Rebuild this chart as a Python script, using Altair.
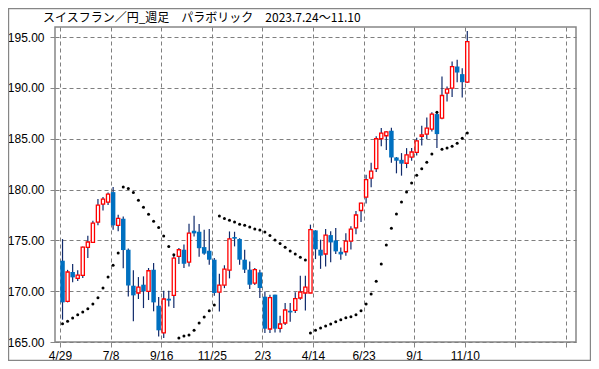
import altair as alt
import pandas as pd

# Weekly CHF/JPY candles (4/29/2022 .. 11/10/2023)
opens = [173.0, 169.0, 171.89, 171.26, 171.56, 174.31, 174.80, 176.80, 178.57, 178.77,
         179.75, 176.48, 177.13, 174.08, 170.54, 169.82, 170.64, 169.98, 172.11, 168.57,
         165.89, 169.26, 169.59, 173.43, 174.08, 172.87, 175.95, 175.85, 174.34, 173.98,
         173.10, 169.90, 170.60, 172.08, 175.33, 175.14, 173.10, 172.12, 170.80, 171.85,
         169.46, 166.28, 169.66, 166.34, 166.87, 168.08, 168.11, 169.33, 169.82, 169.82,
         175.98, 174.08, 173.66, 175.52, 175.00, 173.88, 173.88, 174.93, 176.24, 177.94,
         179.25, 181.12, 182.06, 185.00, 185.30, 185.79, 183.16, 182.93, 182.59, 183.20,
         183.66, 185.23, 185.46, 185.95, 187.43, 187.03, 189.49, 189.98, 192.11, 191.36,
         190.57]
highs = [175.13, 172.10, 172.67, 172.05, 174.40, 175.46, 176.93, 179.07, 179.26, 179.72,
         180.25, 177.52, 177.36, 174.20, 172.05, 171.39, 171.46, 172.28, 172.77, 169.43,
         170.05, 170.05, 173.66, 174.25, 174.60, 176.64, 177.43, 176.62, 176.05, 176.11,
         173.26, 171.72, 172.55, 175.88, 175.85, 175.20, 174.08, 172.93, 172.28, 172.12,
         169.98, 169.66, 169.66, 167.59, 168.84, 168.84, 169.89, 171.53, 171.53, 176.55,
         176.00, 175.07, 176.11, 175.90, 176.21, 174.30, 175.70, 176.40, 177.90, 178.70,
         181.45, 182.63, 185.25, 186.05, 185.75, 186.08, 183.20, 183.59, 184.08, 184.08,
         185.10, 186.28, 187.10, 187.62, 187.62, 191.13, 190.15, 192.61, 192.77, 191.95,
         195.60]
lows = [167.20, 168.90, 170.87, 171.00, 171.30, 173.26, 174.74, 176.48, 177.95, 178.48,
        176.05, 175.89, 172.25, 169.49, 167.03, 169.23, 168.34, 169.13, 168.02, 165.55,
        165.39, 168.50, 168.34, 172.67, 172.28, 172.44, 175.39, 173.40, 173.59, 172.61,
        169.56, 168.00, 170.30, 171.26, 174.41, 172.60, 171.79, 170.22, 170.60, 169.33,
        165.89, 165.89, 165.94, 165.94, 166.67, 167.00, 167.85, 169.16, 168.11, 169.80,
        173.16, 172.20, 172.44, 172.84, 173.66, 173.10, 173.50, 174.10, 175.60, 176.80,
        178.62, 180.22, 181.72, 184.27, 183.90, 182.63, 181.60, 181.37, 182.11, 182.84,
        183.36, 184.34, 184.97, 185.72, 184.08, 186.93, 188.67, 189.10, 190.57, 189.07,
        190.48]
closes = [168.90, 171.89, 171.36, 171.59, 174.34, 174.84, 176.70, 178.48, 179.07, 179.56,
          176.48, 177.16, 174.05, 170.56, 169.59, 170.41, 169.98, 172.01, 168.90, 166.15,
          169.23, 169.08, 173.26, 174.08, 172.70, 175.72, 175.69, 174.23, 173.70, 173.10,
          169.82, 170.60, 172.18, 175.14, 175.17, 173.10, 172.12, 170.64, 172.12, 170.31,
          166.31, 169.36, 166.31, 166.77, 168.15, 167.91, 169.26, 169.92, 170.41, 176.05,
          174.12, 173.50, 175.52, 174.80, 173.92, 173.62, 174.93, 176.11, 177.50, 178.66,
          180.97, 181.82, 185.00, 185.56, 185.68, 183.16, 182.84, 182.55, 183.41, 183.70,
          184.80, 185.39, 186.05, 187.43, 185.46, 189.26, 189.89, 192.11, 191.52, 190.57,
          194.57]
sar = [166.80, 167.05, 167.36, 167.68, 167.96, 168.27, 168.75, 169.36, 170.31, 171.39,
       172.56, 173.77, 180.25, 180.11, 179.72, 178.95, 178.27, 177.57, 176.88, 176.28,
       175.43, 174.41, 173.58, 165.39, 165.58, 165.70, 166.15, 166.87, 167.46, 168.08,
       168.64, 177.39, 177.15, 176.97, 176.80, 176.60, 176.50, 176.31, 176.11, 176.01,
       175.82, 175.47, 175.05, 174.69, 174.33, 173.95, 173.66, 173.35, 173.07, 165.89,
       166.15, 166.38, 166.57, 166.78, 166.99, 167.20, 167.38, 167.48, 167.68, 168.07,
       168.74, 169.73, 170.98, 172.68, 174.55, 176.19, 177.59, 178.77, 179.75, 180.64,
       181.41, 182.05, 182.70, 183.49, 187.62, 183.98, 184.08, 184.27, 184.57, 185.05,
       185.56]
tick_labels = ["4/29", "7/8", "9/16", "11/25", "2/3", "4/14", "6/23", "9/1", "11/10", "", ""]
y_ticks = [165, 170, 175, 180, 185, 190, 195]
title_text = "スイスフラン／円_週足　パラボリック　2023.7.24～11.10"

n = len(opens)
df = pd.DataFrame({
    "pos": [i + 0.5 for i in range(n)],
    "open": opens, "high": highs, "low": lows, "close": closes, "sar": sar,
})
df["kind"] = ["up" if c >= o else "down" for o, c in zip(opens, closes)]

W, H = 521, 315
PAD = {"left": 47, "top": 19, "right": 15, "bottom": 19}
GRAY = "#868686"

xscale = alt.Scale(domain=[0, 101], nice=False, zero=False)
yscale = alt.Scale(domain=[165, 196], nice=False, zero=False)
label_arr = "[" + ",".join("'" + t + "'" for t in tick_labels) + "]"
xaxis = alt.Axis(values=list(range(0, 101, 10)),
                 labelExpr=label_arr + "[round(datum.value/10)]",
                 grid=True, gridDash=[4, 3], gridColor="#7f7f7f", gridWidth=1,
                 domain=False, ticks=True, tickSize=5, tickColor=GRAY,
                 labelFontSize=12, labelFont="Liberation Sans", labelColor="black",
                 labelPadding=3, labelFlush=False, title=None)
yaxis = alt.Axis(values=y_ticks, format=".2f",
                 grid=True, gridDash=[4, 3], gridColor="#7f7f7f", gridWidth=1,
                 domain=False, ticks=True, tickSize=5, tickColor=GRAY,
                 labelFontSize=12, labelFont="Liberation Sans", labelColor="black",
                 labelPadding=6, title=None)

X = alt.X("pos:Q", scale=xscale, axis=xaxis)

base = alt.Chart(df)

wicks = base.mark_rule(color="#102a6b", strokeWidth=1.2).encode(
    x=X, y=alt.Y("low:Q", scale=yscale, axis=yaxis), y2="high:Q")

down_body = base.transform_filter(alt.datum.kind == "down").mark_bar(
    size=4.5, color="#0070c0").encode(
    x=X, y=alt.Y("open:Q", scale=yscale, axis=yaxis), y2="close:Q")

up_body = base.transform_filter(alt.datum.kind == "up").mark_bar(
    size=3.2, fill="white", stroke="#ff0000", strokeWidth=1.3).encode(
    x=X, y=alt.Y("open:Q", scale=yscale, axis=yaxis), y2="close:Q")

sar_pts = base.mark_circle(size=9, color="black", opacity=1).encode(
    x=X, y=alt.Y("sar:Q", scale=yscale, axis=yaxis))

one = pd.DataFrame({"label": [title_text]})

frame = alt.Chart(one).mark_rect(
    fillOpacity=0, stroke=GRAY, strokeWidth=1.2).encode(
    x=alt.value(-PAD["left"] + 0.6),
    x2=alt.value(W + PAD["right"] - 0.6),
    y=alt.value(-PAD["top"] + 0.6),
    y2=alt.value(H + PAD["bottom"] - 0.6))

title = alt.Chart(one).mark_text(
    align="left", baseline="middle", font="Noto Sans CJK JP", fontSize=12,
    color="black").encode(
    x=alt.value(-12), y=alt.value(-9), text="label:N")

chart = alt.layer(frame, wicks, down_body, up_body, sar_pts, title).properties(
    width=W, height=H,
    autosize=alt.AutoSizeParams(type="none"),
    padding=PAD,
).configure_view(stroke=GRAY, strokeWidth=1.5)

chart.save("out.html", embed_options={"renderer": "svg", "actions": False})
